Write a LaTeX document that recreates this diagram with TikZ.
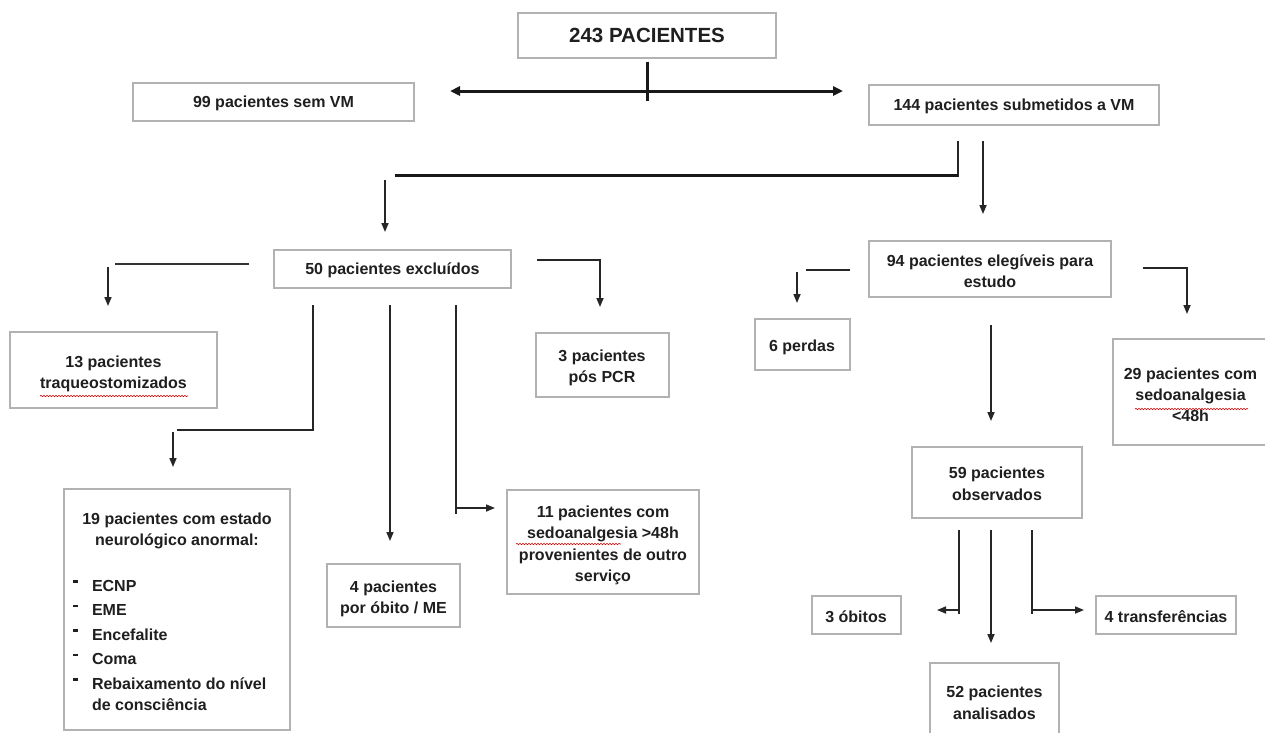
\documentclass[tikz,border=0pt]{standalone}
\usepackage{fontspec}
\setmainfont{Liberation Sans}
\usetikzlibrary{arrows.meta,decorations.pathmorphing}
\newcommand\bulmark{\hspace*{9pt}\makebox[19pt][l]{\rule[8.5pt]{5pt}{2.5pt}}}
\newcommand\tx[2][6pt]{\raisebox{0pt}[\dimexpr\height+#1\relax][\depth]{\begin{tabular}{@{}c@{}}#2\end{tabular}}}
\begin{document}
\begin{tikzpicture}[x=1pt,y=-1pt,
  box/.style={draw=gray!60, line width=2pt, fill=white, inner sep=0pt,
    font=\bfseries\fontsize{16}{21.5}\selectfont, text=black!88},
  ln/.style={draw=black!85, line width=1.6pt},
  heavy/.style={draw=black!90, line width=3pt},
  arr/.style={ln, -{Triangle[length=9pt,width=7pt]}},
  wavy/.style={draw=red!85!black, line width=0.6pt, decorate,
    decoration={snake, amplitude=0.7pt, segment length=3pt}}]
\useasboundingbox[fill=white] (0,0) rectangle (1265,732);

% ---------- boxes ----------
\node[box, minimum width=258pt, minimum height=45pt,
  font=\bfseries\fontsize{20.5}{24}\selectfont] (n243) at (647,35) {243 PACIENTES};
\node[box, minimum width=281pt, minimum height=38pt] (n99) at (273.5,101.5) {\tx[3pt]{99 pacientes sem VM}};
\node[box, minimum width=290pt, minimum height=40pt] (n144) at (1014,105) {\tx[3pt]{144 pacientes submetidos a VM}};
\node[box, minimum width=237pt, minimum height=38pt] (nexc) at (392.5,269) {\tx[3pt]{50 pacientes excluídos}};
\node[box, minimum width=207pt, minimum height=76pt] (n13) at (113.5,370) {\tx[7pt]{13 pacientes\\traqueostomizados}};
\node[box, minimum width=133pt, minimum height=64pt] (npcr) at (602,364.5) {\tx{3 pacientes\\pós PCR}};
\node[box, minimum width=226pt, minimum height=241pt] (n19) at (177,609.5)
  {\parbox[c][241pt][t]{226pt}{\vspace*{24pt}\centering\fontsize{16}{21}\selectfont
   19 pacientes com estado\\ neurológico anormal:\par
   \vspace{21pt}\raggedright\fontsize{16}{24.5}\selectfont
   \bulmark ECNP\\ \bulmark EME\\ \bulmark Encefalite\\ \bulmark Coma\\
   \bulmark Rebaixamento do nível\\[-3pt] \hspace*{28pt}de consciência\par}};
\node[box, minimum width=133pt, minimum height=63pt] (n4) at (393.5,595.5) {\tx{4 pacientes\\por óbito / ME}};
\node[box, minimum width=192pt, minimum height=104pt] (n11) at (603,542)
  {\tx{11 pacientes com\\sedoanalgesia >48h\\provenientes de outro\\serviço}};
\node[box, minimum width=242pt, minimum height=56pt] (n94) at (990,269) {\tx[7pt]{94 pacientes elegíveis para\\estudo}};
\node[box, minimum width=95pt, minimum height=51pt] (n6) at (802,344.5) {\tx{6 perdas}};
\node[box, minimum width=156pt, minimum height=106pt, font=\bfseries\fontsize{16}{21}\selectfont]
  (n29) at (1190.5,391.5) {\tx[10pt]{29 pacientes com\\sedoanalgesia\\<48h}};
\node[box, minimum width=170pt, minimum height=71pt] (n59) at (997,482) {\tx{59 pacientes\\observados}};
\node[box, minimum width=89pt, minimum height=38pt] (nob) at (856,615) {\tx{3 óbitos}};
\node[box, minimum width=140pt, minimum height=38pt] (ntr) at (1166,615) {\tx{4 transferências}};
\node[box, minimum width=129pt, minimum height=76pt] (n52) at (994.5,701) {\tx{52 pacientes\\analisados}};

% ---------- spell-check underlines ----------
\draw[wavy] (40,396) -- (188,396);
\draw[wavy] (516,544) -- (621,544);
\draw[wavy] (1135,409) -- (1248,409);

% ---------- connectors ----------
\coordinate (t1) at (647,101);
\draw[heavy] ([yshift=-3pt]n243.south) -- (t1);
\coordinate (dL) at (450,91); \coordinate (dR) at (843,91);
\draw[heavy, {Triangle[length=10pt,width=9pt]}-{Triangle[length=10pt,width=9pt]}] (dL) -- (dR);

\coordinate (c1) at (958,141); \coordinate (c2) at (958,175); \coordinate (c3) at (395,175);
\draw[ln] (c1) -- ([yshift=-1.5pt]c2);
\draw[heavy] (c2) -- (c3);
\coordinate (c4) at (385,180); \coordinate (c5) at (385,232);
\draw[arr] (c4) -- (c5);
\coordinate (c6) at (983,141); \coordinate (c7) at (983,214);
\draw[arr] (c6) -- (c7);

% 50 excluded
\coordinate (e1) at (249,264); \coordinate (e2) at (115,264);
\draw[draw=black!80, line width=2.5pt] (e1) -- (e2);
\coordinate (e3) at (108,267); \coordinate (e4) at (108,306);
\draw[arr] (e3) -- (e4);
\coordinate (e5) at (537,260); \coordinate (e6) at (600,260); \coordinate (e7) at (600,307);
\draw[arr] (e5) -- (e6) -- (e7);
\coordinate (f1) at (313,305); \coordinate (f2) at (313,430); \coordinate (f3) at (177,430);
\draw[ln] (f1) -- (f2) -- (f3);
\coordinate (f4) at (173,432); \coordinate (f5) at (173,467);
\draw[arr] (f4) -- (f5);
\coordinate (g1) at (390,305); \coordinate (g2) at (390,541);
\draw[arr] (g1) -- (g2);
\coordinate (h1) at (456,305); \coordinate (h2) at (456,514); \coordinate (h3) at (456,508); \coordinate (h4) at (495,508);
\draw[ln] (h1) -- (h2);
\draw[arr] (h3) -- (h4);

% 94 eligible
\coordinate (k1) at (850,270); \coordinate (k2) at (806,270);
\draw[ln] (k1) -- (k2);
\coordinate (k3) at (797,272); \coordinate (k4) at (797,303);
\draw[arr] (k3) -- (k4);
\coordinate (k5) at (1143,268); \coordinate (k6) at (1187,268); \coordinate (k7) at (1187,314);
\draw[arr] (k5) -- (k6) -- (k7);
\coordinate (k8) at (991,325); \coordinate (k9) at (991,421);
\draw[arr] (k8) -- (k9);

% 59 observed
\coordinate (m1) at (959,530); \coordinate (m2) at (959,614); \coordinate (m3) at (959,610); \coordinate (m4) at (937,610);
\draw[ln] (m1) -- (m2);
\draw[arr] (m3) -- (m4);
\coordinate (m5) at (991,530); \coordinate (m6) at (991,643);
\draw[arr] (m5) -- (m6);
\coordinate (m7) at (1032,530); \coordinate (m8) at (1032,614); \coordinate (m9) at (1032,610); \coordinate (m10) at (1084,610);
\draw[ln] (m7) -- (m8);
\draw[arr] (m9) -- (m10);
\end{tikzpicture}
\end{document}
